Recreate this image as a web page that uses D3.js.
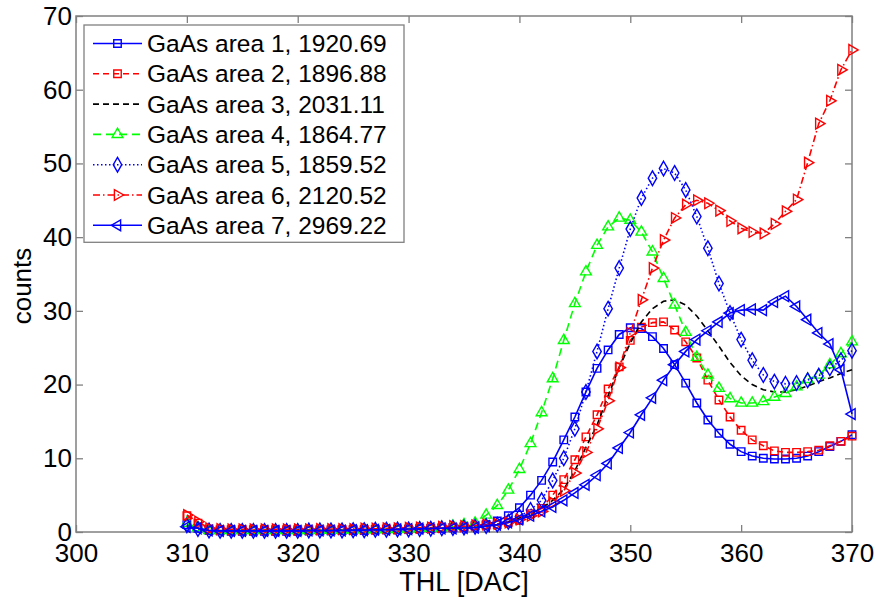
<!DOCTYPE html>
<html>
<head>
<meta charset="utf-8">
<script src="https://cdn.jsdelivr.net/npm/d3@7"></script>
<style>
  html, body { margin: 0; padding: 0; background: #fff; }
  svg { display: block; }
  text { font-family: "Liberation Sans", Arial, Helvetica, sans-serif; fill: #000; }
</style>
</head>
<body>
<svg id="chart" width="878" height="598"></svg>
<script>
// THL threshold scan: 310 ... 370 DAC, one reading per step
const thl = d3.range(310, 371);

const xTicks = [300, 310, 320, 330, 340, 350, 360, 370];
const yTicks = [0, 10, 20, 30, 40, 50, 60, 70];

const seriesNames = [
  "GaAs area 1, 1920.69",
  "GaAs area 2, 1896.88",
  "GaAs area 3, 2031.11",
  "GaAs area 4, 1864.77",
  "GaAs area 5, 1859.52",
  "GaAs area 6, 2120.52",
  "GaAs area 7, 2969.22"
];

// counts per THL step, 310..370
const area1 = [1.0, 0.5, 0.2, 0.15, 0.1, 0.1, 0.1, 0.1, 0.1, 0.1,
  0.1, 0.15, 0.15, 0.15, 0.2, 0.2, 0.2, 0.25, 0.3, 0.3,
  0.35, 0.4, 0.45, 0.5, 0.6, 0.7, 0.85, 1.0, 1.5, 2.2,
  3.3, 5.0, 7.0, 9.5, 12.5, 15.6, 19.0, 22.2, 24.7, 26.8,
  27.7, 27.6, 26.5, 24.9, 22.7, 20.2, 17.5, 15.2, 13.4, 11.9,
  10.9, 10.3, 10.0, 9.9, 9.9, 10.0, 10.3, 10.9, 11.6, 12.3,
  13.2];
const area2 = [2.2, 1.2, 0.4, 0.3, 0.3, 0.3, 0.3, 0.3, 0.3, 0.3,
  0.3, 0.3, 0.3, 0.3, 0.35, 0.35, 0.35, 0.35, 0.4, 0.4,
  0.4, 0.5, 0.5, 0.6, 0.6, 0.7, 0.8, 0.9, 1.0, 1.3,
  1.6, 2.5, 3.2, 5.0, 7.1, 9.8, 12.9, 15.9, 19.4, 22.4,
  26.0, 27.8, 28.4, 28.5, 27.4, 25.8, 23.6, 20.6, 17.9, 15.6,
  13.8, 12.5, 11.7, 11.0, 10.8, 10.8, 10.9, 11.1, 11.7, 12.3,
  13.0];
const area3 = [0.8, 0.5, 0.2, 0.2, 0.2, 0.2, 0.2, 0.2, 0.2, 0.2,
  0.2, 0.2, 0.2, 0.25, 0.25, 0.25, 0.3, 0.3, 0.3, 0.35,
  0.35, 0.4, 0.45, 0.5, 0.5, 0.55, 0.6, 0.8, 1.0, 1.4,
  1.9, 2.5, 3.2, 4.3, 5.8, 8.3, 11.5, 14.5, 18.5, 22.3,
  25.6, 28.5, 30.3, 31.3, 31.5, 30.8, 29.3, 27.3, 25.2, 23.0,
  21.2, 20.0, 19.3, 19.0, 19.0, 19.3, 19.8, 20.4, 20.9, 21.5,
  22.0];
const area4 = [1.2, 0.6, 0.2, 0.2, 0.2, 0.2, 0.2, 0.2, 0.2, 0.2,
  0.2, 0.2, 0.25, 0.25, 0.25, 0.3, 0.3, 0.3, 0.35, 0.35,
  0.4, 0.5, 0.5, 0.6, 0.8, 1.0, 1.2, 2.3, 3.6, 5.7,
  8.5, 12.0, 16.2, 20.8, 26.0, 31.0, 35.3, 38.9, 41.4, 42.6,
  42.3, 40.7, 38.0, 34.4, 30.8, 27.1, 23.7, 21.3, 19.5, 18.1,
  17.5, 17.5, 17.7, 18.3, 18.8, 19.7, 20.7, 21.3, 22.7, 24.2,
  25.8];
const area5 = [0.9, 0.4, 0.2, 0.15, 0.15, 0.15, 0.15, 0.15, 0.15, 0.15,
  0.15, 0.2, 0.2, 0.2, 0.2, 0.25, 0.25, 0.3, 0.3, 0.35,
  0.35, 0.4, 0.45, 0.5, 0.55, 0.6, 0.7, 0.8, 1.0, 1.4,
  2.1, 3.0, 4.3, 7.0, 10.0, 14.0, 19.0, 24.5, 30.3, 35.8,
  41.1, 45.3, 48.0, 49.3, 48.7, 46.4, 42.8, 38.5, 33.7, 29.7,
  26.1, 23.3, 21.3, 20.4, 20.1, 20.2, 20.6, 21.2, 22.2, 23.3,
  24.6];
const area6 = [2.3, 1.4, 0.5, 0.4, 0.35, 0.35, 0.35, 0.35, 0.35, 0.35,
  0.35, 0.35, 0.4, 0.4, 0.4, 0.4, 0.45, 0.45, 0.5, 0.5,
  0.55, 0.6, 0.6, 0.7, 0.8, 0.8, 0.9, 1.0, 1.1, 1.3,
  1.7, 2.2, 2.8, 4.0, 5.6, 8.0, 10.8, 14.0, 17.8, 22.3,
  27.0, 31.5, 35.8, 39.6, 42.6, 44.4, 45.0, 44.6, 43.6, 42.2,
  41.2, 40.7, 40.5, 41.8, 43.5, 45.1, 50.1, 55.4, 58.5, 62.7,
  65.4];
const area7 = [0.7, 0.5, 0.2, 0.15, 0.15, 0.15, 0.15, 0.15, 0.15, 0.15,
  0.15, 0.2, 0.2, 0.2, 0.2, 0.25, 0.25, 0.3, 0.3, 0.35,
  0.4, 0.45, 0.5, 0.5, 0.5, 0.55, 0.6, 0.8, 1.0, 1.3,
  1.7, 2.2, 2.8, 3.4, 4.3, 5.3, 6.4, 7.7, 9.3, 11.4,
  13.5, 15.9, 18.2, 20.6, 22.7, 24.5, 26.1, 27.3, 28.5, 29.7,
  30.1, 30.2, 30.1, 31.2, 32.0, 30.6, 28.8, 27.0, 25.5, 22.0,
  16.0];

const seriesValues = [area1, area2, area3, area4, area5, area6, area7];

// line and marker styling for each area
const styles = [
  { color: "#0000ff", dash: null,        marker: "square" },
  { color: "#ff0000", dash: "6,4",       marker: "square" },
  { color: "#000000", dash: "6,4",       marker: null },
  { color: "#00ff00", dash: "8,5",       marker: "triUp" },
  { color: "#0000ff", dash: "1.5,2.5",   marker: "diamond" },
  { color: "#ff0000", dash: "7,3,1.5,3", marker: "triRight" },
  { color: "#0000ff", dash: null,        marker: "triLeft" }
];

const W = 878, H = 598;
const margin = { left: 76, right: W - 852, top: 16, bottom: H - 532 };
const svg = d3.select("#chart");

const x = d3.scaleLinear().domain([300, 370]).range([margin.left, W - margin.right]);
const y = d3.scaleLinear().domain([0, 70]).range([H - margin.bottom, margin.top]);

const axisColor = "#808080";
const tickFont = 26;

// plot background and frame
svg.append("rect")
  .attr("x", x(300)).attr("y", y(70))
  .attr("width", x(370) - x(300)).attr("height", y(0) - y(70))
  .attr("fill", "#fff");

function styleAxis(g, showLabels) {
  g.select(".domain").remove();
  g.selectAll(".tick line").attr("stroke", axisColor).attr("stroke-width", 1.3);
  if (showLabels) {
    g.selectAll(".tick text").style("font-size", tickFont + "px").attr("fill", "#000");
  } else {
    g.selectAll(".tick text").remove();
  }
}

svg.append("g")
  .attr("transform", `translate(0,${y(0)})`)
  .call(d3.axisBottom(x).tickValues(xTicks).tickSize(-7).tickPadding(12).tickFormat(d3.format("d")))
  .call(g => styleAxis(g, true));
svg.append("g")
  .attr("transform", `translate(0,${y(70)})`)
  .call(d3.axisTop(x).tickValues(xTicks).tickSize(-7))
  .call(g => styleAxis(g, false));
svg.append("g")
  .attr("transform", `translate(${x(300)},0)`)
  .call(d3.axisLeft(y).tickValues(yTicks).tickSize(-7).tickPadding(4).tickFormat(d3.format("d")))
  .call(g => styleAxis(g, true));
svg.append("g")
  .attr("transform", `translate(${x(370)},0)`)
  .call(d3.axisRight(y).tickValues(yTicks).tickSize(-7))
  .call(g => styleAxis(g, false));

svg.append("rect")
  .attr("x", x(300)).attr("y", y(70))
  .attr("width", x(370) - x(300)).attr("height", y(0) - y(70))
  .attr("fill", "none").attr("stroke", axisColor).attr("stroke-width", 1.5);

// axis titles
svg.append("text")
  .attr("x", (x(300) + x(370)) / 2).attr("y", 591)
  .attr("text-anchor", "middle")
  .style("font-size", "27px")
  .text("THL [DAC]");
svg.append("text")
  .attr("transform", `translate(31,${(y(0) + y(70)) / 2 + 12}) rotate(-90)`)
  .attr("text-anchor", "middle")
  .style("font-size", "26px")
  .text("counts");

// marker shapes
function markerPath(kind) {
  switch (kind) {
    case "square":   return { d: d3.symbol(d3.symbolSquare, 56)(), rot: 0 };
    case "diamond":  return { d: d3.symbol(d3.symbolDiamond, 62)(), rot: 0 };
    case "triUp":    return { d: d3.symbol(d3.symbolTriangle, 50)(), rot: 0 };
    case "triRight": return { d: d3.symbol(d3.symbolTriangle, 50)(), rot: 90 };
    case "triLeft":  return { d: d3.symbol(d3.symbolTriangle, 50)(), rot: -90 };
  }
  return null;
}

const plot = svg.append("g");
const line = d3.line().x(d => x(d[0])).y(d => y(d[1]));

seriesValues.forEach((vals, i) => {
  const st = styles[i];
  const pts = thl.map((t, k) => [t, vals[k]]);
  const g = plot.append("g");
  g.append("path")
    .datum(pts)
    .attr("d", line)
    .attr("fill", "none")
    .attr("stroke", st.color)
    .attr("stroke-width", 1.6)
    .attr("stroke-dasharray", st.dash);
  if (st.marker) {
    const m = markerPath(st.marker);
    g.selectAll("path.mk")
      .data(pts)
      .join("path")
      .attr("class", "mk")
      .attr("d", m.d)
      .attr("transform", d => `translate(${x(d[0])},${y(d[1])}) rotate(${m.rot})`)
      .attr("fill", "none")
      .attr("stroke", st.color)
      .attr("stroke-width", 1.4);
  }
});

// legend
const lg = svg.append("g");
const lgLeft = 84, lgTop = 25, lgRight = 404, rowH = 30.3, firstRow = 43.5;
lg.append("rect")
  .attr("x", lgLeft).attr("y", lgTop)
  .attr("width", lgRight - lgLeft)
  .attr("height", firstRow + rowH * 6 + 17 - lgTop)
  .attr("fill", "#fff").attr("stroke", axisColor).attr("stroke-width", 1.3);

seriesNames.forEach((name, i) => {
  const st = styles[i];
  const cy = firstRow + i * rowH;
  const row = lg.append("g");
  row.append("line")
    .attr("x1", 93).attr("x2", 142).attr("y1", cy).attr("y2", cy)
    .attr("stroke", st.color).attr("stroke-width", 1.6)
    .attr("stroke-dasharray", st.dash);
  if (st.marker) {
    const m = markerPath(st.marker);
    row.append("path")
      .attr("d", m.d)
      .attr("transform", `translate(117.5,${cy}) rotate(${m.rot})`)
      .attr("fill", "none").attr("stroke", st.color).attr("stroke-width", 1.4);
  }
  row.append("text")
    .attr("x", 147).attr("y", cy).attr("dy", "0.35em")
    .style("font-size", "24.5px")
    .text(name);
});
</script>
</body>
</html>
